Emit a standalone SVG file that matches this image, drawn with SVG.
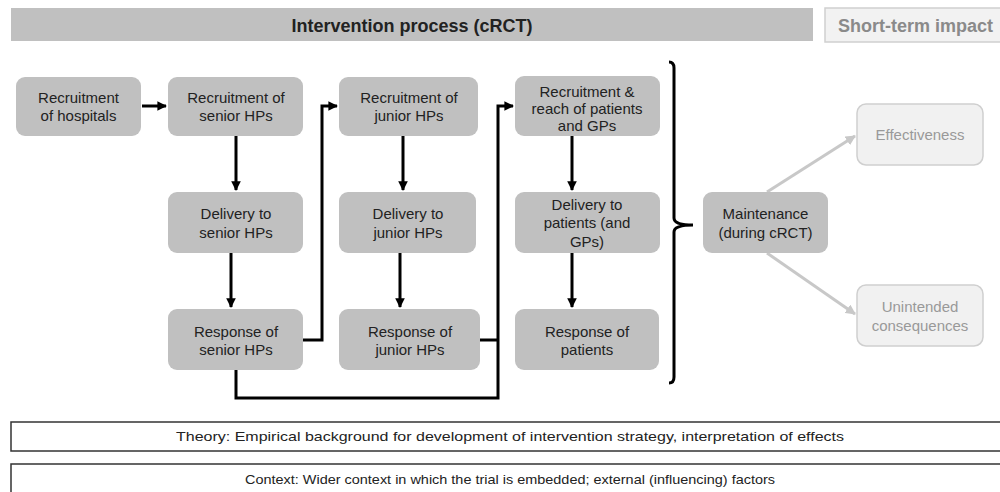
<svg xmlns="http://www.w3.org/2000/svg" width="1000" height="492" viewBox="0 0 1000 492">
  <style>
    .node rect { fill: #c0c0c0; stroke: none; }
    .node text { font-family: "Liberation Sans", Arial, sans-serif; font-size: 15px; fill: #222; text-anchor: middle; }
    .outcome rect { fill: #f1f1f1; stroke: #cfcfcf; stroke-width: 1.5; }
    .outcome text { font-family: "Liberation Sans", Arial, sans-serif; font-size: 15px; fill: #999; text-anchor: middle; }
    .flow { fill: none; stroke: #000; stroke-width: 3; }
    .impact { fill: none; stroke: #c8c8c8; stroke-width: 3; }
    .band text { font-family: "Liberation Sans", Arial, sans-serif; font-size: 13.5px; fill: #222; text-anchor: middle; }
    .band rect { fill: #fff; stroke: #333; stroke-width: 1.5; }
    .head { font-family: "Liberation Sans", Arial, sans-serif; font-size: 18px; font-weight: bold; }
  </style>
  <defs>
    <marker id="ah" viewBox="0 0 10 10" refX="9" refY="5" markerWidth="3.2" markerHeight="3.2" orient="auto" markerUnits="strokeWidth">
      <path d="M0,0 L10,5 L0,10 z" fill="#000"/>
    </marker>
    <marker id="ahg" viewBox="0 0 10 10" refX="9" refY="5" markerWidth="3.4" markerHeight="3.4" orient="auto" markerUnits="strokeWidth">
      <path d="M0,0 L10,5 L0,10 z" fill="#c8c8c8"/>
    </marker>
  </defs>

  <rect width="1000" height="492" fill="#fff"/>

  <!-- header bars -->
  <g id="header-process">
    <rect x="11" y="8" width="802" height="33" fill="#c0c0c0"/>
    <text class="head" x="412" y="32" fill="#222" text-anchor="middle">Intervention process (cRCT)</text>
  </g>
  <g id="header-impact">
    <rect x="825" y="8" width="185" height="34" fill="#f2f2f2" stroke="#cfcfcf" stroke-width="1.5"/>
    <text class="head" x="838" y="32" fill="#8a8a8a">Short-term impact</text>
  </g>

  <!-- connectors -->
  <g id="connectors">
    <path class="flow" d="M142,106 H166" marker-end="url(#ah)"/>
    <path class="flow" d="M236,136 V190" marker-end="url(#ah)"/>
    <path class="flow" d="M231,253 V307" marker-end="url(#ah)"/>
    <path class="flow" d="M303,340 H322 V106 H337" marker-end="url(#ah)"/>
    <path class="flow" d="M403,136 V190" marker-end="url(#ah)"/>
    <path class="flow" d="M400,253 V307" marker-end="url(#ah)"/>
    <path class="flow" d="M480,340 H498"/>
    <path class="flow" d="M236,370 V398 H498 V106 H513" marker-end="url(#ah)"/>
    <path class="flow" d="M572,136 V190" marker-end="url(#ah)"/>
    <path class="flow" d="M572,253 V307" marker-end="url(#ah)"/>
    <!-- curly brace grouping the process steps -->
    <path d="M669,62 Q674,62 674,68 V218 Q674,225 693,225 Q674,225 674,232 V377 Q674,383 669,383" fill="none" stroke="#000" stroke-width="3"/>
    <path class="impact" d="M767,192 L855,136" marker-end="url(#ahg)"/>
    <path class="impact" d="M767,253 L855,314" marker-end="url(#ahg)"/>
  </g>

  <!-- process steps -->
  <g id="recruit-hospitals" class="node">
    <rect x="16" y="77" width="125" height="59" rx="9"/>
    <text x="78.5" y="103">Recruitment</text>
    <text x="78.5" y="121">of hospitals</text>
  </g>
  <g id="recruit-senior" class="node">
    <rect x="168" y="77" width="135" height="59" rx="9"/>
    <text x="236" y="103">Recruitment of</text>
    <text x="236" y="121">senior HPs</text>
  </g>
  <g id="recruit-junior" class="node">
    <rect x="339" y="77" width="139" height="59" rx="9"/>
    <text x="409" y="103">Recruitment of</text>
    <text x="409" y="121">junior HPs</text>
  </g>
  <g id="recruit-patients" class="node">
    <rect x="515" y="76" width="145" height="60" rx="9"/>
    <text x="587" y="97">Recruitment &amp;</text>
    <text x="587" y="114">reach of patients</text>
    <text x="587" y="131">and GPs</text>
  </g>
  <g id="deliver-senior" class="node">
    <rect x="168" y="192" width="135" height="61" rx="9"/>
    <text x="236" y="219">Delivery to</text>
    <text x="236" y="238">senior HPs</text>
  </g>
  <g id="deliver-junior" class="node">
    <rect x="339" y="192" width="137" height="61" rx="9"/>
    <text x="408" y="219">Delivery to</text>
    <text x="408" y="238">junior HPs</text>
  </g>
  <g id="deliver-patients" class="node">
    <rect x="515" y="192" width="145" height="61" rx="9"/>
    <text x="587" y="210">Delivery to</text>
    <text x="587" y="228">patients (and</text>
    <text x="587" y="247">GPs)</text>
  </g>
  <g id="response-senior" class="node">
    <rect x="168" y="309" width="135" height="61" rx="9"/>
    <text x="236" y="337">Response of</text>
    <text x="236" y="355">senior HPs</text>
  </g>
  <g id="response-junior" class="node">
    <rect x="339" y="309" width="141" height="61" rx="9"/>
    <text x="410" y="337">Response of</text>
    <text x="410" y="355">junior HPs</text>
  </g>
  <g id="response-patients" class="node">
    <rect x="515" y="309" width="144" height="61" rx="9"/>
    <text x="587" y="337">Response of</text>
    <text x="587" y="355">patients</text>
  </g>
  <g id="maintenance" class="node">
    <rect x="703" y="192" width="125" height="61" rx="9"/>
    <text x="765.5" y="219">Maintenance</text>
    <text x="765.5" y="238">(during cRCT)</text>
  </g>

  <!-- short-term outcomes -->
  <g id="effectiveness" class="outcome">
    <rect x="857" y="104" width="126" height="61" rx="9"/>
    <text x="920" y="140">Effectiveness</text>
  </g>
  <g id="unintended" class="outcome">
    <rect x="857" y="285" width="126" height="61" rx="9"/>
    <text x="920" y="312">Unintended</text>
    <text x="920" y="331">consequences</text>
  </g>

  <!-- background bands -->
  <g id="theory" class="band">
    <rect x="11" y="422" width="1000" height="29"/>
    <text x="510" y="441" textLength="668" lengthAdjust="spacingAndGlyphs">Theory: Empirical background for development of intervention strategy, interpretation of effects</text>
  </g>
  <g id="context" class="band">
    <rect x="11" y="464" width="1000" height="40"/>
    <text x="510" y="484" textLength="530" lengthAdjust="spacingAndGlyphs">Context: Wider context in which the trial is embedded; external (influencing) factors</text>
  </g>
</svg>
